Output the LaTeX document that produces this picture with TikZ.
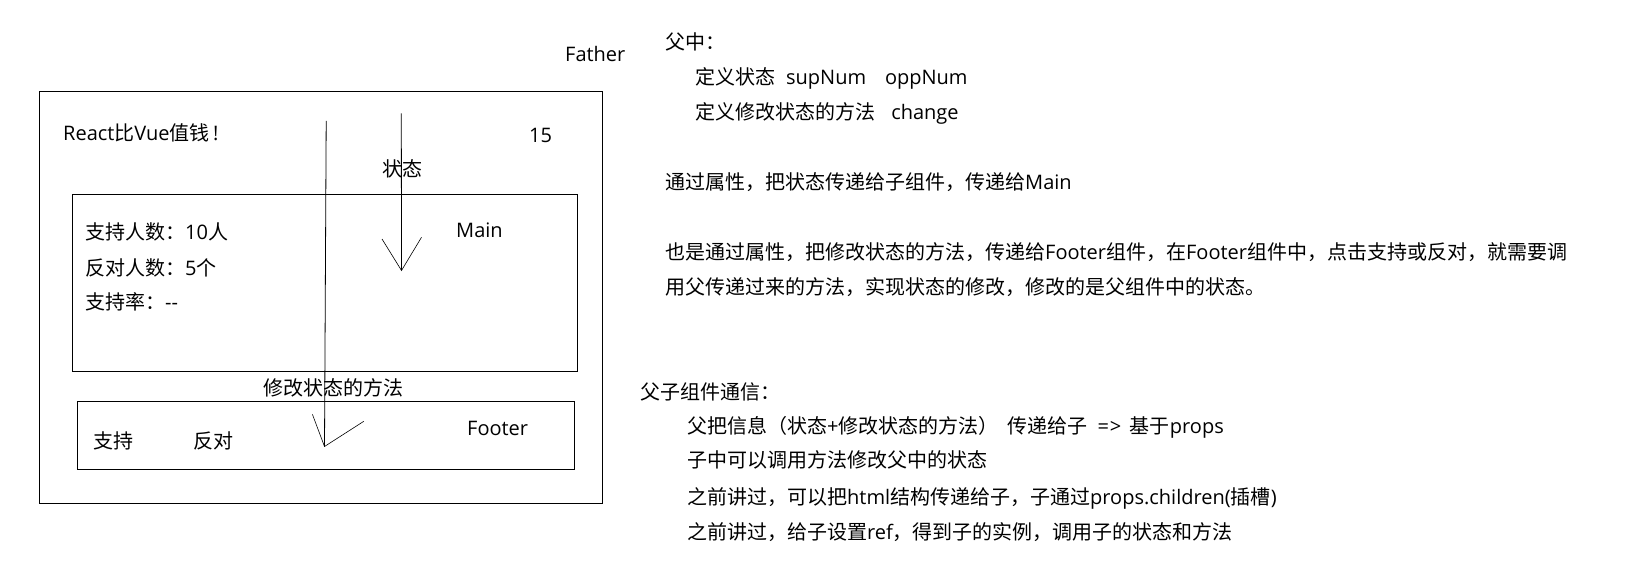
\documentclass[tikz,border=0pt]{standalone}
\usepackage{fontspec}
\setmainfont{Noto Sans CJK SC}
\newfontfamily\latn{Open Sans}
\newcommand{\La}[1]{{\latn #1}}
\begin{document}
\begin{tikzpicture}[x=1pt,y=-1pt]
\tikzset{
  box/.style={draw, line width=1pt, inner sep=0pt, minimum width=#1},
  txt/.style={anchor=base west, inner sep=0pt, font=\fontsize{20}{24}\selectfont},
  ln/.style={line width=0.8pt},
  headln/.style={line width=0.6pt}
}
\useasboundingbox[fill=white] (0,0) rectangle (1625,577);
% boxes
\node[box=562.4pt, minimum height=412.2pt] (father) at (321,297.4) {};
\node[box=504.9pt, minimum height=176.3pt] (main) at (324.85,283.15) {};
\node[box=496.6pt, minimum height=68pt] (footer) at (325.8,435.3) {};
% left texts
\node[txt] (tfather) at (565,62) {\La{Father}};
\node[txt] (title) at (63,141) {\La{React}比\La{Vue}值钱\La{\,!}};
\node[txt] (num) at (529,143) {\La{15}};
\node[txt] (state) at (382.5,176.5) {状态};
\node[txt] (tmain) at (456,238) {\La{Main}};
\node[txt] (l1) at (85,240) {支持人数：\La{10}人};
\node[txt] (l2) at (85,275.5) {反对人数：\La{5}个};
\node[txt] (l3) at (85,310) {支持率：\La{-{}-}};
\node[txt] (method) at (263,395.5) {修改状态的方法};
\node[txt] (sup) at (93,448) {支持};
\node[txt] (opp) at (193,448) {反对};
\node[txt] (tfooter) at (467,435) {\La{Footer}};
% arrows
\coordinate (a1s) at (326.2,121);
\coordinate (a1t) at (324.5,446.5);
\coordinate (a1l) at (312.4,414.3);
\coordinate (a1r) at (363.8,421.3);
\draw[ln] (a1s) -- (a1t);
\draw[headln] (a1l) -- (a1t) -- (a1r);
\coordinate (a2s) at (401.3,113.3);
\coordinate (a2t) at (401.5,270.5);
\coordinate (a2l) at (382,239);
\coordinate (a2r) at (421.5,237.3);
\draw[ln] (a2s) -- (a2t);
\draw[headln] (a2l) -- (a2t) -- (a2r);
% right texts
\node[txt] (r1) at (665,50) {父中：};
\node[txt] (r2) at (695.5,84.5) {定义状态\La{\ \ supNum\ \ \ \,oppNum}};
\node[txt] (r3) at (695.5,120) {定义修改状态的方法\La{\ \ \ change}};
\node[txt] (r4) at (665,189.5) {通过属性，把状态传递给子组件，传递给\La{Main}};
\node[txt] (r5) at (665,259.5) {也是通过属性，把修改状态的方法，传递给\La{Footer}组件，在\La{Footer}组件中，点击支持或反对，就需要调};
\node[txt] (r6) at (665,295) {用父传递过来的方法，实现状态的修改，修改的是父组件中的状态。};
\node[txt] (s1) at (640.5,399.5) {父子组件通信：};
\node[txt] (s2) at (687,433) {父把信息（状态\La{+}修改状态的方法）\La{\ \,}传递给子\La{\ \ =\kern1pt>\ \,}基于\La{props}};
\node[txt] (s3) at (687,467) {子中可以调用方法修改父中的状态};
\node[txt] (s4) at (687,504) {之前讲过，可以把\La{html}结构传递给子，子通过\La{props.children(}插槽\La{)}};
\node[txt] (s5) at (687,539) {之前讲过，给子设置\La{ref}，得到子的实例，调用子的状态和方法};
\end{tikzpicture}
\end{document}
